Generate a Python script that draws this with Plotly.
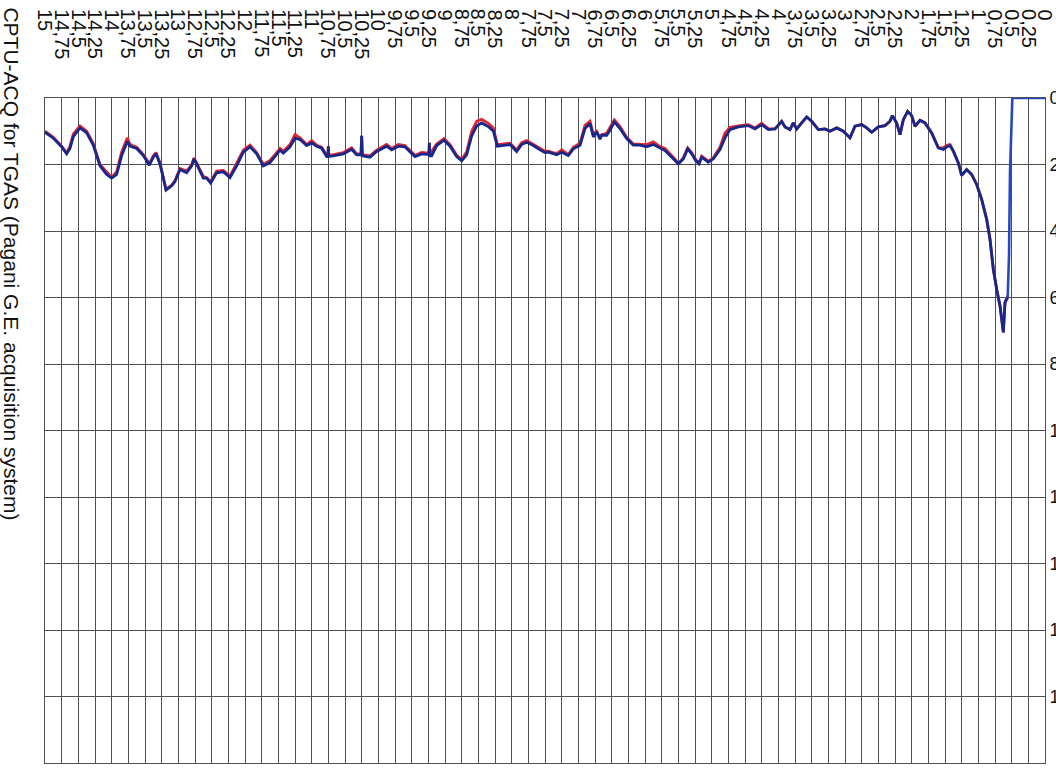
import plotly.graph_objects as go

# Depth (m) along the sounding
depth = [
    15.0, 14.875, 14.75, 14.675, 14.625, 14.575, 14.475, 14.375, 14.275, 14.175,
    14.075, 14.0, 13.925, 13.85, 13.765, 13.725, 13.625, 13.525, 13.435, 13.375,
    13.335, 13.275, 13.225, 13.185, 13.1, 13.05, 12.975, 12.875, 12.8, 12.765,
    12.725, 12.625, 12.575, 12.515, 12.425, 12.325, 12.225, 12.125, 12.025, 11.925,
    11.825, 11.725, 11.625, 11.525, 11.475, 11.425, 11.325, 11.25, 11.175, 11.075,
    11.0, 10.925, 10.85, 10.775, 10.755, 10.75, 10.745, 10.675, 10.525, 10.4,
    10.325, 10.26, 10.25, 10.24, 10.125, 10.025, 9.875, 9.8, 9.7, 9.6,
    9.525, 9.45, 9.35, 9.275, 9.24, 9.235, 9.23, 9.2, 9.125, 9.015,
    8.925, 8.825, 8.75, 8.675, 8.6, 8.525, 8.45, 8.35, 8.275, 8.215,
    8.125, 8.025, 7.925, 7.85, 7.775, 7.675, 7.575, 7.5, 7.45, 7.325,
    7.25, 7.15, 7.075, 6.975, 6.9, 6.825, 6.775, 6.725, 6.675, 6.65,
    6.575, 6.525, 6.46, 6.375, 6.275, 6.175, 6.075, 5.975, 5.875, 5.775,
    5.7, 5.625, 5.55, 5.5, 5.425, 5.36, 5.3, 5.24, 5.19, 5.15,
    5.05, 4.975, 4.875, 4.8, 4.725, 4.6, 4.45, 4.35, 4.25, 4.15,
    4.05, 3.95, 3.9, 3.825, 3.775, 3.725, 3.65, 3.575, 3.5, 3.4,
    3.3, 3.225, 3.125, 3.025, 2.925, 2.85, 2.75, 2.675, 2.6, 2.5,
    2.4, 2.325, 2.29, 2.225, 2.175, 2.125, 2.06, 2.0, 1.95, 1.875,
    1.8, 1.7, 1.6, 1.525, 1.475, 1.425, 1.375, 1.3, 1.25, 1.175,
    1.1, 1.025, 0.95, 0.875, 0.825, 0.775, 0.725, 0.675, 0.625, 0.6,
    0.56,
]

# Acquisition channel A (dark blue trace)
qc_a = [
    1.03, 1.21, 1.47, 1.68, 1.52, 1.16, 0.90, 1.05, 1.42, 2.04,
    2.30, 2.41, 2.30, 1.73, 1.31, 1.45, 1.52, 1.73, 2.02, 1.78,
    1.68, 1.99, 2.41, 2.77, 2.64, 2.51, 2.15, 2.25, 2.04, 1.83,
    1.99, 2.41, 2.41, 2.56, 2.25, 2.22, 2.39, 2.04, 1.63, 1.47,
    1.68, 2.04, 1.94, 1.70, 1.57, 1.66, 1.47, 1.21, 1.25, 1.43,
    1.35, 1.45, 1.51, 1.76, 1.76, 1.45, 1.76, 1.74, 1.68, 1.54,
    1.71, 1.71, 1.14, 1.74, 1.78, 1.61, 1.45, 1.56, 1.45, 1.47,
    1.61, 1.76, 1.68, 1.68, 1.70, 1.35, 1.74, 1.74, 1.43, 1.27,
    1.45, 1.76, 1.89, 1.71, 1.14, 0.84, 0.75, 0.86, 0.99, 1.45,
    1.43, 1.40, 1.61, 1.40, 1.33, 1.43, 1.56, 1.64, 1.63, 1.71,
    1.63, 1.73, 1.53, 1.42, 0.92, 0.77, 1.17, 1.02, 1.24, 1.12,
    1.12, 0.97, 0.72, 0.92, 1.22, 1.42, 1.42, 1.47, 1.40, 1.51,
    1.58, 1.73, 1.88, 1.98, 1.83, 1.53, 1.68, 1.88, 1.98, 1.78,
    1.93, 1.83, 1.55, 1.20, 0.95, 0.87, 0.83, 0.93, 0.80, 0.95,
    0.93, 0.70, 0.87, 0.95, 0.75, 0.93, 0.75, 0.57, 0.70, 0.95,
    0.93, 1.00, 0.90, 1.00, 1.20, 0.85, 0.80, 0.90, 1.03, 0.87,
    0.83, 0.70, 0.53, 0.75, 1.10, 0.65, 0.40, 0.53, 0.85, 0.67,
    0.75, 1.05, 1.50, 1.55, 1.47, 1.43, 1.60, 1.95, 2.33, 2.15,
    2.30, 2.60, 3.05, 3.65, 4.25, 5.15, 5.75, 6.25, 7.05, 6.15,
    6.00,
]

# Acquisition channel B (red trace)
qc_b = [
    1.00, 1.18, 1.45, 1.66, 1.45, 1.08, 0.84, 1.00, 1.38, 2.00,
    2.22, 2.38, 2.22, 1.62, 1.20, 1.40, 1.48, 1.70, 1.98, 1.74,
    1.64, 1.95, 2.40, 2.75, 2.62, 2.48, 2.12, 2.20, 2.00, 1.80,
    1.96, 2.36, 2.40, 2.52, 2.20, 2.18, 2.35, 1.98, 1.57, 1.42,
    1.64, 2.00, 1.88, 1.64, 1.52, 1.60, 1.40, 1.10, 1.20, 1.40,
    1.28, 1.42, 1.48, 1.72, 1.72, 1.45, 1.72, 1.70, 1.64, 1.50,
    1.68, 1.68, 1.14, 1.70, 1.74, 1.57, 1.40, 1.52, 1.40, 1.43,
    1.58, 1.72, 1.64, 1.64, 1.66, 1.35, 1.70, 1.60, 1.38, 1.22,
    1.40, 1.72, 1.85, 1.62, 1.00, 0.70, 0.64, 0.76, 0.90, 1.40,
    1.38, 1.36, 1.56, 1.34, 1.28, 1.40, 1.52, 1.60, 1.60, 1.68,
    1.56, 1.70, 1.48, 1.36, 0.82, 0.70, 1.10, 1.00, 1.20, 1.10,
    1.06, 0.90, 0.66, 0.86, 1.18, 1.38, 1.38, 1.40, 1.32, 1.46,
    1.52, 1.68, 1.84, 1.98, 1.80, 1.50, 1.64, 1.85, 1.96, 1.75,
    1.90, 1.80, 1.48, 1.05, 0.88, 0.84, 0.80, 0.90, 0.76, 0.92,
    0.93, 0.70, 0.87, 0.95, 0.75, 0.93, 0.75, 0.57, 0.70, 0.95,
    0.93, 1.00, 0.90, 1.00, 1.20, 0.85, 0.80, 0.90, 1.03, 0.87,
    0.83, 0.70, 0.53, 0.75, 1.10, 0.65, 0.40, 0.53, 0.85, 0.67,
    0.75, 1.05, 1.50, 1.50, 1.42, 1.40, 1.60, 1.95, 2.33, 2.15,
    2.30, 2.60, 3.05, 3.65, 4.25, 5.15, 5.75, 6.25, 7.05, 6.15,
    5.95,
]

# Start of the sounding: rise to zero and flat top
start_depth = [0.56, 0.54, 0.525, 0.49, 0.0]
start_qc = [6.00, 4.75, 2.25, 0.0, 0.0]

# Depth ticks every 0.25 m
depth_ticks = [
    15, 14.75, 14.5, 14.25, 14, 13.75, 13.5, 13.25, 13, 12.75, 12.5, 12.25,
    12, 11.75, 11.5, 11.25, 11, 10.75, 10.5, 10.25, 10, 9.75, 9.5, 9.25,
    9, 8.75, 8.5, 8.25, 8, 7.75, 7.5, 7.25, 7, 6.75, 6.5, 6.25,
    6, 5.75, 5.5, 5.25, 5, 4.75, 4.5, 4.25, 4, 3.75, 3.5, 3.25,
    3, 2.75, 2.5, 2.25, 2, 1.75, 1.5, 1.25, 1, 0.75, 0.5, 0.25, 0,
]
depth_labels = [
    "15", "14,75", "14,5", "14,25", "14", "13,75", "13,5", "13,25", "13", "12,75", "12,5", "12,25",
    "12", "11,75", "11,5", "11,25", "11", "10,75", "10,5", "10,25", "10", "9,75", "9,5", "9,25",
    "9", "8,75", "8,5", "8,25", "8", "7,75", "7,5", "7,25", "7", "6,75", "6,5", "6,25",
    "6", "5,75", "5,5", "5,25", "5", "4,75", "4,5", "4,25", "4", "3,75", "3,5", "3,25",
    "3", "2,75", "2,5", "2,25", "2", "1,75", "1,5", "1,25", "1", "0,75", "0,5", "0,25", "0",
]
qc_ticks = [0, 2, 4, 6, 8, 10, 12, 14, 16, 18, 20]
qc_labels = ["0", "2", "4", "6", "8", "10", "12", "14", "16", "18", "20"]

FONT = "Liberation Sans, Arial, sans-serif"
GRID = "#505050"

fig = go.Figure()
fig.add_trace(go.Scatter(x=depth, y=qc_b, mode="lines",
                         line=dict(color="#e0262e", width=2.8), hoverinfo="skip"))
fig.add_trace(go.Scatter(x=depth, y=qc_a, mode="lines",
                         line=dict(color="#17288c", width=2.8), hoverinfo="skip"))
fig.add_trace(go.Scatter(x=start_depth, y=start_qc, mode="lines",
                         line=dict(color="#2748c4", width=2.6), hoverinfo="skip"))

annotations = []
for xv, lab in zip(depth_ticks, depth_labels):
    annotations.append(dict(
        x=xv, xref="x", y=1.137, yref="paper", text=lab, showarrow=False,
        textangle=90, xanchor="center", yanchor="top",
        font=dict(family=FONT, size=20, color="#111111"),
    ))
annotations.append(dict(
    x=-0.033, xref="paper", y=1.14, yref="paper",
    text="CPTU-ACQ for TGAS (Pagani G.E. acquisition system)",
    showarrow=False, textangle=90, xanchor="center", yanchor="top",
    font=dict(family=FONT, size=21, color="#111111"),
))

fig.update_layout(
    width=1056, height=773,
    margin=dict(l=45, r=11, t=98, b=10, pad=0, autoexpand=False),
    paper_bgcolor="white", plot_bgcolor="white",
    showlegend=False,
    annotations=annotations,
    xaxis=dict(
        range=[15, 0], tickmode="array", tickvals=depth_ticks,
        showticklabels=False, ticks="", showgrid=True, automargin=False,
        gridcolor=GRID, gridwidth=1, zeroline=False,
        showline=True, linecolor=GRID, linewidth=1, mirror=True,
    ),
    yaxis=dict(
        range=[20, 0], side="right", tickmode="array", automargin=False,
        tickvals=qc_ticks, ticktext=qc_labels, ticks="",
        showgrid=True, gridcolor=GRID, gridwidth=1, zeroline=False,
        showline=True, linecolor=GRID, linewidth=1, mirror=True,
        tickfont=dict(family=FONT, size=18, color="#111111"),
    ),
)

fig.write_html("out.html")
